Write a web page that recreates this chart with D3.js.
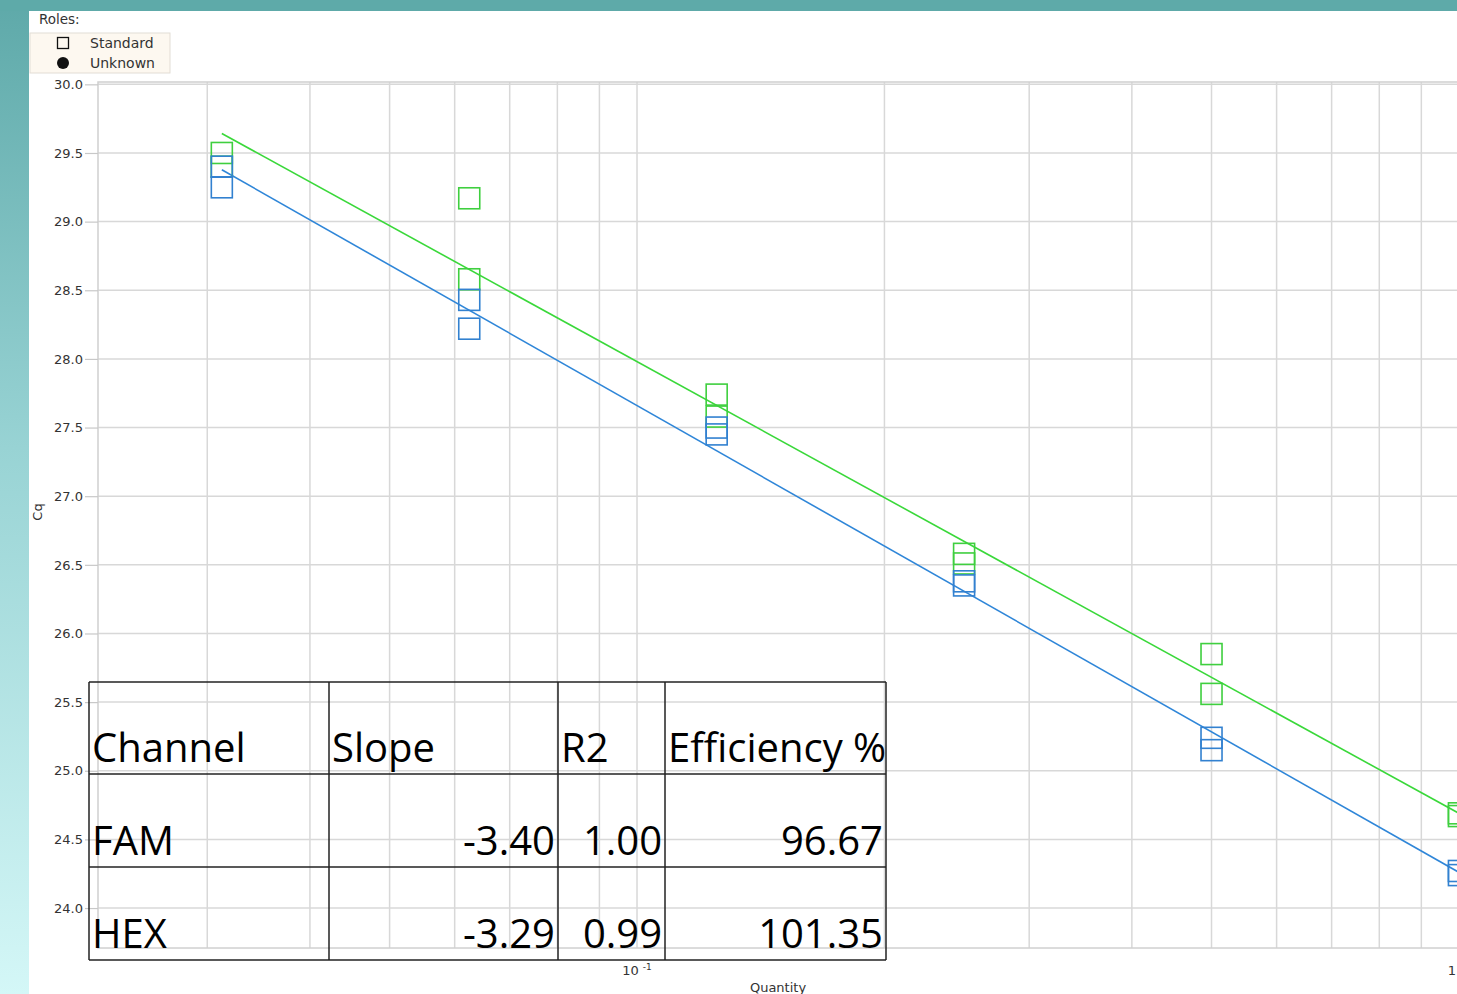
<!DOCTYPE html>
<html>
<head>
<meta charset="utf-8">
<script src="https://cdn.jsdelivr.net/npm/d3@7"></script>
<style>
  html, body { margin: 0; padding: 0; background: #fff; overflow: hidden; }
</style>
</head>
<body>
<div id="chart"></div>
<script>
// dilution series (quantity) and replicate Cq values
const quantities = [0.03125, 0.0625, 0.125, 0.25, 0.5, 1];
const famCq = [
    [29.40, 29.25],
    [28.43, 28.22],
    [27.50, 27.45],
    [26.38, 26.35],
    [25.24, 25.15],
    [24.27, 24.24]
];
const hexCq = [
    [29.50, 29.40],
    [29.17, 28.58],
    [27.74, 27.58],
    [26.58, 26.51],
    [25.85, 25.56],
    [24.69, 24.67]
];
const channels = ['FAM', 'HEX'];
const slopes = [-3.40, -3.29];
const intercepts = [24.26, 24.69];
const r2Values = ['1.00', '0.99'];
const efficiencies = ['96.67', '101.35'];
const tableHeader = ['Channel', 'Slope', 'R2', 'Efficiency %'];
const yTicks = [30.0, 29.5, 29.0, 28.5, 28.0, 27.5, 27.0, 26.5, 26.0, 25.5, 25.0, 24.5, 24.0];
const legendItems = ['Standard', 'Unknown'];

const W = 1457, H = 994;
const plot = {left: 98, right: 1475, top: 82, bottom: 948};
const colors = {FAM: '#3281d0', HEX: '#3fcf3f'};
const lineColors = {FAM: '#2f86d8', HEX: '#3ad83a'};
const axisFont = 'DejaVu Sans';

const svg = d3.select('#chart').append('svg')
    .attr('width', W)
    .attr('height', H)
    .style('display', 'block');

// teal frame
const defs = svg.append('defs');
const grad = defs.append('linearGradient')
    .attr('id', 'side')
    .attr('x1', 0).attr('y1', 0).attr('x2', 0).attr('y2', 1);
grad.append('stop').attr('offset', 0).attr('stop-color', '#5ea9a9');
grad.append('stop').attr('offset', 0.45).attr('stop-color', '#98d3d4');
grad.append('stop').attr('offset', 1).attr('stop-color', '#d4f7f7');
svg.append('rect').attr('x', 0).attr('y', 0).attr('width', 29).attr('height', H).attr('fill', 'url(#side)');
svg.append('rect').attr('x', 0).attr('y', 0).attr('width', W).attr('height', 11).attr('fill', '#5eaaa9');

// scales
const x = d3.scaleLog()
    .domain([0.02209, 1.046])
    .range([plot.left, plot.right]);
const y = d3.scaleLinear()
    .domain([23.709, 30.017])
    .range([plot.bottom, plot.top]);

// grid
const grid = svg.append('g');
grid.selectAll('.vx')
    .data(x.ticks())
    .enter()
    .append('line')
    .attr('x1', d => x(d)).attr('x2', d => x(d))
    .attr('y1', plot.top).attr('y2', plot.bottom)
    .attr('stroke', '#d8d8d8')
    .attr('stroke-width', 1.5);
grid.selectAll('.hy')
    .data(yTicks)
    .enter()
    .append('line')
    .attr('x1', plot.left).attr('x2', plot.right)
    .attr('y1', d => y(d)).attr('y2', d => y(d))
    .attr('stroke', '#d8d8d8')
    .attr('stroke-width', 1.5);
svg.append('rect')
    .attr('x', plot.left).attr('y', plot.top)
    .attr('width', plot.right - plot.left).attr('height', plot.bottom - plot.top)
    .attr('fill', 'none')
    .attr('stroke', '#d0d0d0')
    .attr('stroke-width', 1.5);

// y axis
const yAxis = d3.axisLeft(y)
    .tickValues(yTicks)
    .tickSize(13)
    .tickPadding(2)
    .tickFormat(d3.format('.1f'));
const yG = svg.append('g')
    .attr('transform', `translate(${plot.left},0)`)
    .call(yAxis);
yG.select('.domain').remove();
yG.selectAll('.tick line').attr('stroke', '#c8c8c8').attr('stroke-width', 1.2);
yG.selectAll('.tick text')
    .attr('fill', '#333')
    .style('font-family', axisFont)
    .style('font-size', '13px');

// x axis labels (decades only)
const decades = x.ticks().filter(d => Math.abs(Math.log10(d) - Math.round(Math.log10(d))) < 1e-9);
const xLab = svg.append('g').selectAll('text')
    .data(decades)
    .enter()
    .append('text')
    .attr('x', d => Math.min(x(d), W - 1))
    .attr('y', 975)
    .attr('text-anchor', d => x(d) > W - 8 ? 'end' : 'middle')
    .attr('fill', '#333')
    .style('font-family', axisFont)
    .style('font-size', '13px');
xLab.each(function(d){
    const p = Math.round(Math.log10(d));
    const t = d3.select(this);
    if(p === 0){
        t.text('1');
    }else{
        t.append('tspan').text('10 ');
        t.append('tspan').attr('dy', -5).style('font-size', '9px').text('-' + Math.abs(p));
    }
});

svg.append('text')
    .attr('x', 778).attr('y', 992)
    .attr('text-anchor', 'middle')
    .attr('fill', '#333')
    .style('font-family', axisFont)
    .style('font-size', '13px')
    .text('Quantity');
svg.append('text')
    .attr('transform', 'translate(42,512) rotate(-90)')
    .attr('text-anchor', 'middle')
    .attr('fill', '#333')
    .style('font-family', axisFont)
    .style('font-size', '13px')
    .text('Cq');

// standard curve fit lines
const fitData = channels.map((c, i) => ({
    channel: c,
    pts: [quantities[0], quantities[quantities.length - 1]].map(q => [q, slopes[i] * Math.log10(q) + intercepts[i]])
}));
const lineGen = d3.line().x(d => x(d[0])).y(d => y(d[1]));
svg.append('g').selectAll('path')
    .data(fitData)
    .enter()
    .append('path')
    .attr('d', d => lineGen(d.pts))
    .attr('fill', 'none')
    .attr('stroke', d => lineColors[d.channel])
    .attr('stroke-width', 1.6);

// standard points (hollow squares)
const sq = 21;
const points = [];
quantities.forEach((q, i) => {
    hexCq[i].forEach(v => points.push({channel: 'HEX', q: q, cq: v}));
});
quantities.forEach((q, i) => {
    famCq[i].forEach(v => points.push({channel: 'FAM', q: q, cq: v}));
});
svg.append('g').selectAll('rect')
    .data(points)
    .enter()
    .append('rect')
    .attr('x', d => x(d.q) - sq / 2)
    .attr('y', d => y(d.cq) - sq / 2)
    .attr('width', sq)
    .attr('height', sq)
    .attr('fill', 'none')
    .attr('stroke', d => colors[d.channel])
    .attr('stroke-width', 1.6);

// legend
svg.append('text')
    .attr('x', 39).attr('y', 24)
    .attr('fill', '#333')
    .style('font-family', axisFont)
    .style('font-size', '13.5px')
    .text('Roles:');
svg.append('rect')
    .attr('x', 30).attr('y', 33)
    .attr('width', 140).attr('height', 40)
    .attr('fill', '#fdf8f0')
    .attr('stroke', '#e2ddd5');
const leg = svg.append('g').selectAll('g')
    .data(legendItems)
    .enter()
    .append('g')
    .attr('transform', (d, i) => `translate(63, ${43 + i * 20})`);
leg.filter((d, i) => i === 0).append('rect')
    .attr('x', -5.5).attr('y', -5.5).attr('width', 11).attr('height', 11)
    .attr('fill', 'none').attr('stroke', '#111').attr('stroke-width', 1.3);
leg.filter((d, i) => i === 1).append('circle')
    .attr('r', 6).attr('fill', '#111');
leg.append('text')
    .attr('x', 27).attr('y', 5)
    .attr('fill', '#333')
    .style('font-family', axisFont)
    .style('font-size', '14px')
    .text(d => d);

// results table
const colX = [89, 329, 558, 665, 886];
const rowY = [682, 774, 867, 960];
const tableRows = [tableHeader].concat(channels.map((c, i) => [c, slopes[i].toFixed(2), r2Values[i], efficiencies[i]]));
const tbl = svg.append('g');
tbl.selectAll('.h')
    .data(rowY)
    .enter()
    .append('line')
    .attr('x1', colX[0]).attr('x2', colX[colX.length - 1])
    .attr('y1', d => d).attr('y2', d => d)
    .attr('stroke', '#222').attr('stroke-width', 1.5);
tbl.selectAll('.v')
    .data(colX)
    .enter()
    .append('line')
    .attr('x1', d => d).attr('x2', d => d)
    .attr('y1', rowY[0]).attr('y2', rowY[rowY.length - 1])
    .attr('stroke', '#222').attr('stroke-width', 1.5);
tableRows.forEach((row, r) => {
    row.forEach((cell, c) => {
        const right = r > 0 && c > 0;
        tbl.append('text')
            .attr('x', right ? colX[c + 1] - 3 : colX[c] + 3)
            .attr('y', rowY[r + 1] - 12)
            .attr('text-anchor', right ? 'end' : 'start')
            .attr('fill', '#000')
            .style('font-family', 'Open Sans')
            .style('font-size', '40px')
            .text(cell);
    });
});
</script>
</body>
</html>
